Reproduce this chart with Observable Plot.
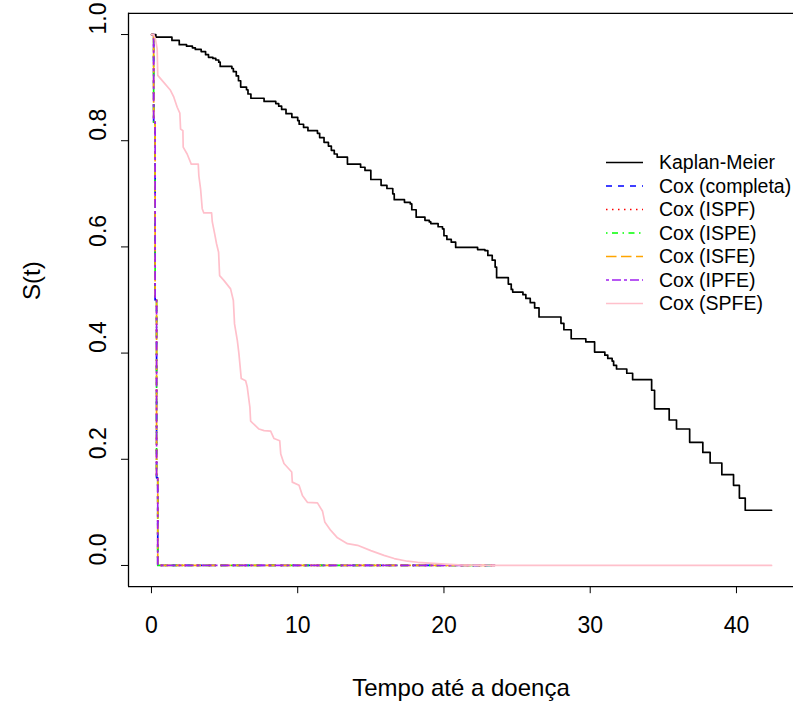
<!DOCTYPE html>
<html>
<head>
<meta charset="utf-8">
<script src="https://cdn.jsdelivr.net/npm/d3@7"></script>
<script src="https://cdn.jsdelivr.net/npm/@observablehq/plot@0.6"></script>
<style>
  html, body { margin: 0; padding: 0; background: #fff; overflow: hidden; }
  #chart svg { display: block; }
</style>
</head>
<body>
<div id="chart"></div>
<script>
// ---- Data ----
const kmT = [0, 0.3, 1.4, 1.9, 2.4, 2.8, 3.0, 3.4, 3.7, 3.9, 4.2, 4.4, 4.6, 4.7, 5.5, 5.6, 5.8, 5.95, 6.1, 6.5, 6.6, 6.8, 7.7, 8.5, 8.7, 8.9, 9.2, 9.6, 10.0, 10.1, 10.4, 10.7, 11.35, 11.5, 11.8, 12.1, 12.3, 12.5, 12.7, 13.4, 14.3, 14.6, 15.0, 15.7, 16.1, 16.5, 16.6, 17.3, 17.7, 17.8, 18.1, 18.7, 19.0, 19.1, 19.6, 19.9, 20.0, 20.2, 20.5, 20.8, 22.3, 22.8, 23.0, 23.3, 23.5, 23.6, 24.4, 24.6, 24.7, 25.4, 25.6, 25.9, 26.2, 26.5, 28.0, 28.2, 28.7, 29.7, 30.3, 31.0, 31.2, 31.5, 31.6, 31.8, 32.5, 32.9, 34.2, 34.4, 35.4, 35.9, 36.8, 37.7, 38.2, 39.0, 39.8, 40.2, 40.6, 42.4];
const kmS = [1.0, 0.995, 0.989, 0.981, 0.978, 0.975, 0.972, 0.968, 0.962, 0.957, 0.955, 0.952, 0.948, 0.940, 0.936, 0.930, 0.922, 0.913, 0.901, 0.896, 0.888, 0.880, 0.874, 0.870, 0.865, 0.859, 0.851, 0.844, 0.838, 0.831, 0.825, 0.819, 0.814, 0.806, 0.797, 0.790, 0.782, 0.775, 0.769, 0.756, 0.750, 0.744, 0.727, 0.716, 0.710, 0.700, 0.689, 0.684, 0.681, 0.670, 0.656, 0.650, 0.647, 0.644, 0.638, 0.634, 0.621, 0.614, 0.609, 0.599, 0.595, 0.593, 0.584, 0.575, 0.562, 0.542, 0.530, 0.520, 0.515, 0.510, 0.503, 0.495, 0.485, 0.468, 0.456, 0.444, 0.427, 0.421, 0.402, 0.396, 0.390, 0.385, 0.377, 0.370, 0.362, 0.350, 0.330, 0.295, 0.274, 0.257, 0.232, 0.213, 0.193, 0.171, 0.151, 0.127, 0.104, 0.104];

// Cox models (completa, ISPF, ISPE, ISFE, IPFE) share practically the same curve
const coxT = [0, 0.15, 0.25, 0.35, 0.43, 23.5];
const coxS = [1.0, 0.835, 0.50, 0.165, 0.0, 0.0];

// Cox (SPFE)
const spfeT = [0, 0.15, 0.27, 0.39, 0.43, 0.84, 1.3, 1.53, 1.76, 1.94, 1.99, 2.15, 2.17, 2.44, 2.72, 3.2, 3.24, 3.36, 3.47, 3.58, 4.11, 4.16, 4.32, 4.45, 4.59, 4.66, 4.95, 5.41, 5.6, 5.68, 5.87, 5.98, 6.14, 6.44, 6.55, 6.73, 6.78, 7.0, 7.35, 7.7, 8.15, 8.38, 8.77, 8.84, 9.06, 9.59, 9.63, 10.09, 10.32, 10.66, 11.35, 11.7, 11.85, 12.26, 12.72, 13.4, 14.09, 15.0, 15.9, 16.6, 17.5, 18.2, 19.8, 21.0, 23.5, 42.4];
const spfeS = [1.0, 1.0, 0.992, 0.973, 0.923, 0.910, 0.895, 0.882, 0.863, 0.852, 0.822, 0.819, 0.788, 0.775, 0.756, 0.756, 0.734, 0.709, 0.672, 0.664, 0.664, 0.647, 0.625, 0.606, 0.590, 0.546, 0.537, 0.521, 0.499, 0.455, 0.424, 0.399, 0.352, 0.348, 0.336, 0.298, 0.272, 0.266, 0.257, 0.254, 0.253, 0.239, 0.235, 0.210, 0.192, 0.176, 0.157, 0.151, 0.132, 0.119, 0.118, 0.102, 0.082, 0.066, 0.052, 0.041, 0.038, 0.028, 0.019, 0.013, 0.008, 0.006, 0.003, 0.001, 0.0, 0.0];

const seriesNames = ["Kaplan-Meier", "Cox (completa)", "Cox (ISPF)", "Cox (ISPE)", "Cox (ISFE)", "Cox (IPFE)", "Cox (SPFE)"];
const seriesColors = ["#000000", "#0000FF", "#FF0000", "#00FF00", "#FFA500", "#A020F0", "#FFC0CB"];
const seriesDash = [null, "6,6", "1.5,4.5", "1.5,4.5,6,4.5", "10.5,4.5", "3,3,9,3", null];

const xTicks = [0, 10, 20, 30, 40];
const yTicks = [0, 0.2, 0.4, 0.6, 0.8, 1.0];
const xLabel = "Tempo até a doença";
const yLabel = "S(t)";

// ---- Tables ----
const km = kmT.map((t, i) => ({t, s: kmS[i]}));
const cox = coxT.map((t, i) => ({t, s: coxS[i]}));
const spfe = spfeT.map((t, i) => ({t, s: spfeS[i]}));

const font = "'Liberation Sans', Arial, sans-serif";
const lw = 1.7;

const coxMarks = [1, 2, 3, 4, 5].map(k =>
  Plot.line(cox, {x: "t", y: "s", curve: "step-after", stroke: seriesColors[k],
    strokeWidth: lw, strokeDasharray: seriesDash[k], strokeLinecap: "butt"})
);

const chart = Plot.plot({
  width: 793,
  height: 704,
  marginLeft: 128,
  marginRight: 0,
  marginTop: 12.8,
  marginBottom: 117.8,
  style: {fontFamily: font, background: "#fff", overflow: "visible"},
  x: {domain: [-1.57, 43.9], axis: null},
  y: {domain: [-0.04, 1.04], axis: null},
  marks: [
    Plot.line(km, {x: "t", y: "s", curve: "step-after", stroke: seriesColors[0], strokeWidth: lw}),
    ...coxMarks,
    Plot.line(spfe, {x: "t", y: "s", stroke: seriesColors[6], strokeWidth: lw}),
    // box
    Plot.ruleY([-0.04, 1.04], {stroke: "#000", strokeWidth: 1.3}),
    Plot.ruleX([-1.57], {stroke: "#000", strokeWidth: 1.3}),
    // ticks
    Plot.axisX({ticks: xTicks, tickSize: 7, tickFormat: () => "", label: null, stroke: "#000"}),
    Plot.axisY({ticks: yTicks, tickSize: 7, tickFormat: () => "", label: null, stroke: "#000"}),
    // tick labels
    Plot.text(xTicks, {x: d => d, frameAnchor: "bottom", dy: 39, text: d => String(d),
      fontSize: 23, fill: "#000", lineAnchor: "middle"}),
    Plot.text(yTicks, {y: d => d, frameAnchor: "left", dx: -30, rotate: -90,
      text: d => d.toFixed(1), fontSize: 23, fill: "#000", lineAnchor: "middle"}),
    // axis titles
    Plot.text([xLabel], {frameAnchor: "bottom", dy: 102, text: d => d, fontSize: 24, fill: "#000", lineAnchor: "middle"}),
    Plot.text([yLabel], {frameAnchor: "left", dx: -96, rotate: -90, text: d => d, fontSize: 24, fill: "#000", lineAnchor: "middle"})
  ]
});

document.getElementById("chart").appendChild(chart);

// ---- Legend (inside plot, no box, as in R's bty="n") ----
const svg = d3.select(chart);
const lg = svg.append("g").attr("font-family", font).attr("font-size", 19.5).attr("text-anchor", "start");
seriesNames.forEach((name, i) => {
  const y = 162.5 + i * 23.5;
  lg.append("line")
    .attr("x1", 606).attr("x2", 643).attr("y1", y).attr("y2", y)
    .attr("stroke", seriesColors[i]).attr("stroke-width", lw)
    .attr("stroke-dasharray", seriesDash[i]);
  lg.append("text")
    .attr("x", 659).attr("y", y).attr("dy", "0.35em")
    .attr("text-anchor", "start")
    .attr("fill", "#000").text(name);
});
</script>
</body>
</html>
